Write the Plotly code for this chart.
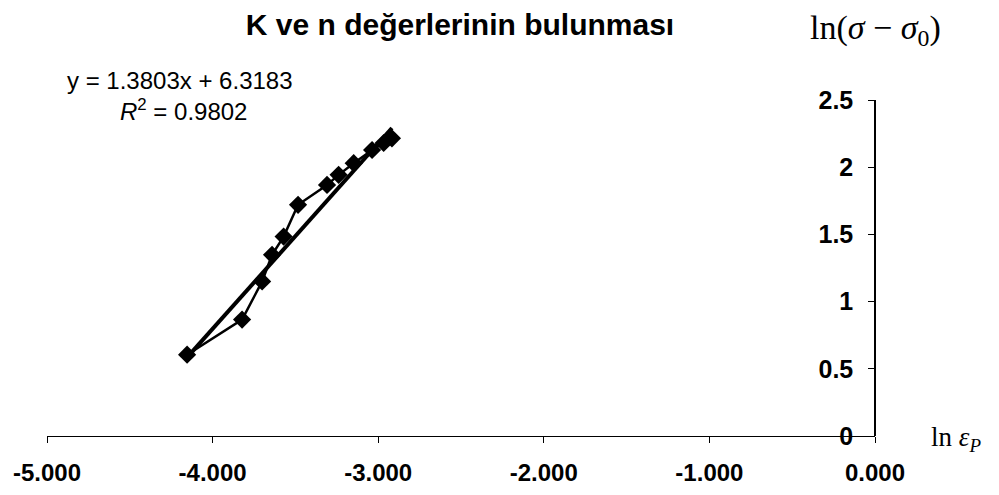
import plotly.graph_objects as go

# data
ln_eps = [-4.154, -3.822, -3.701, -3.641, -3.571, -3.484, -3.309, -3.239, -3.148, -3.037, -2.967, -2.917]
ln_sig = [0.605, 0.866, 1.150, 1.348, 1.484, 1.720, 1.868, 1.943, 2.030, 2.128, 2.180, 2.215]
slope = 1.3803
intercept = 6.3183
x_ticks = [-5, -4, -3, -2, -1, 0]
x_ticklabels = ["-5.000", "-4.000", "-3.000", "-2.000", "-1.000", "0.000"]
y_ticks = [0, 0.5, 1, 1.5, 2, 2.5]
y_ticklabels = ["0", "0.5", "1", "1.5", "2", "2.5"]

trend_x = [min(ln_eps), max(ln_eps)]
trend_y = [slope * v + intercept for v in trend_x]

fig = go.Figure()
fig.add_trace(go.Scatter(x=trend_x, y=trend_y, mode="lines",
                         line=dict(color="black", width=4), showlegend=False))
fig.add_trace(go.Scatter(x=ln_eps, y=ln_sig, mode="lines+markers",
                         line=dict(color="black", width=2.5),
                         marker=dict(symbol="diamond", size=14, color="black"),
                         showlegend=False))

# page has an 8px body margin; figure sized to fit the window
OFF = 8
W, H = 999 - 2 * OFF, 495 - 2 * OFF
# plot area in page pixels: x 47..875, y 100..436.5
L = 47 - OFF
R = W - (875 - OFF)
T = 100 - OFF
B = H - (436.5 - OFF)

SANS = "Liberation Sans, Arial, sans-serif"
SERIF = "Liberation Serif, Times New Roman, serif"

fig.update_layout(
    width=W, height=H,
    margin=dict(l=L, r=R, t=T, b=B, autoexpand=False),
    paper_bgcolor="white", plot_bgcolor="white",
    title=dict(text="<b>K ve n değerlerinin bulunması</b>",
               x=(460 - OFF) / W, y=1 - (24 - OFF) / H, xanchor="center", yanchor="middle",
               font=dict(family=SANS, size=30, color="black")),
    xaxis=dict(range=[-5, 0], tickvals=x_ticks, ticktext=x_ticklabels, automargin=False,
               showgrid=False, zeroline=False, showline=True, linecolor="black", linewidth=1.2,
               ticks="outside", ticklen=6, tickcolor="black", tickwidth=1.2,
               ticklabelstandoff=9,
               tickfont=dict(family=SANS, size=24, color="black", weight="bold")),
    yaxis=dict(range=[0, 2.5], tickvals=y_ticks, ticktext=y_ticklabels, automargin=False,
               anchor="free", position=1.0, side="left",
               showgrid=False, zeroline=False, showline=True, linecolor="black", linewidth=1.5,
               ticks="outside", ticklen=6, tickcolor="black", tickwidth=1.2,
               ticklabelstandoff=10,
               tickfont=dict(family=SANS, size=25, color="black", weight="bold")),
)

pw = W - L - R
ph = H - T - B
def px(xp):
    return (xp - OFF - L) / pw
def py(yp):
    return (H - B - (yp - OFF)) / ph

fig.add_annotation(text="y = 1.3803x + 6.3183", xref="paper", yref="paper",
                   x=px(180), y=py(80), xanchor="center", yanchor="middle", showarrow=False,
                   font=dict(family=SANS, size=24, color="black"))
fig.add_annotation(text="<i>R</i><sup>2</sup> = 0.9802", xref="paper", yref="paper",
                   x=px(183), y=py(110), xanchor="center", yanchor="middle", showarrow=False,
                   font=dict(family=SANS, size=24, color="black"))
fig.add_annotation(text="ln(<i>σ</i> − <i>σ</i><sub>0</sub>)", xref="paper", yref="paper",
                   x=px(875), y=py(30), xanchor="center", yanchor="middle", showarrow=False,
                   font=dict(family=SERIF, size=34, color="black"))
fig.add_annotation(text="ln <i>ε<sub>P</sub></i>", xref="paper", yref="paper",
                   x=px(956), y=py(440), xanchor="center", yanchor="middle", showarrow=False,
                   font=dict(family=SERIF, size=27, color="black"))

fig.write_html("out.html")
